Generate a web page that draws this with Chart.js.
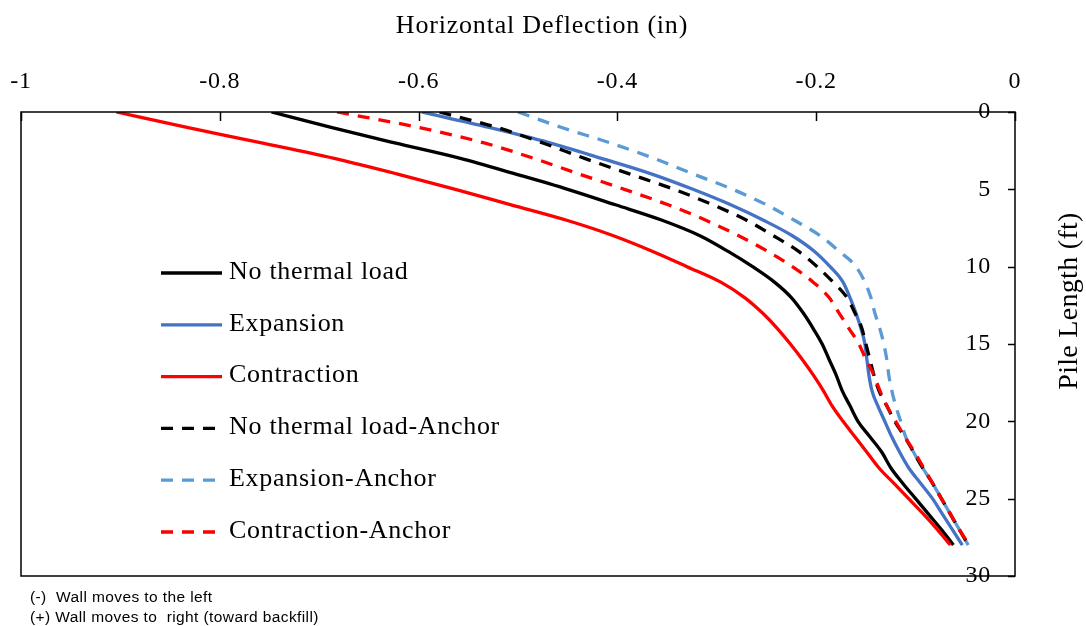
<!DOCTYPE html>
<html>
<head>
<meta charset="utf-8">
<script src="https://cdn.jsdelivr.net/npm/chart.js@4.4.1/dist/chart.umd.min.js"></script>
<style>
  html, body { margin: 0; padding: 0; background: #fff; }
  #wrap { width: 1086px; height: 626px; }
</style>
</head>
<body>
<div id="wrap"><canvas id="chart" width="1086" height="626"></canvas></div>
<script>
// Depth below the pile head (ft)
const depthFt = [0, 1, 2, 3, 4, 5, 6, 7, 8, 9, 10, 11, 12, 13, 14, 15, 16, 17, 18, 19, 20, 21, 22, 23, 24, 25, 26, 27, 28];

// Horizontal deflection (in) at each depth
const noThermalLoad = [-0.748, -0.688, -0.624, -0.558, -0.503, -0.450, -0.402, -0.355, -0.317, -0.289, -0.264, -0.242, -0.225, -0.213, -0.203, -0.194, -0.187, -0.180, -0.174, -0.166, -0.158, -0.146, -0.134, -0.125, -0.113, -0.100, -0.087, -0.074, -0.062];
const expansion = [-0.597, -0.529, -0.468, -0.416, -0.366, -0.324, -0.286, -0.253, -0.224, -0.202, -0.186, -0.173, -0.166, -0.160, -0.155, -0.151, -0.149, -0.147, -0.144, -0.138, -0.131, -0.124, -0.116, -0.107, -0.095, -0.083, -0.073, -0.063, -0.053];
const contraction = [-0.904, -0.833, -0.758, -0.685, -0.622, -0.563, -0.507, -0.451, -0.404, -0.365, -0.330, -0.296, -0.272, -0.254, -0.239, -0.226, -0.214, -0.203, -0.193, -0.184, -0.173, -0.161, -0.149, -0.137, -0.122, -0.107, -0.092, -0.078, -0.065];
const noThermalLoadAnchor = [-0.579, -0.521, -0.475, -0.433, -0.388, -0.343, -0.304, -0.270, -0.243, -0.218, -0.199, -0.183, -0.169, -0.161, -0.154, -0.150, -0.146, -0.142, -0.137, -0.129, -0.121, -0.111, -0.102, -0.093, -0.083, -0.074, -0.065, -0.056, -0.047];
const expansionAnchor = [-0.500, -0.456, -0.407, -0.363, -0.324, -0.284, -0.250, -0.222, -0.196, -0.177, -0.160, -0.151, -0.145, -0.141, -0.136, -0.132, -0.129, -0.127, -0.124, -0.120, -0.115, -0.110, -0.102, -0.093, -0.083, -0.074, -0.065, -0.056, -0.047];
const contractionAnchor = [-0.682, -0.600, -0.534, -0.484, -0.439, -0.393, -0.349, -0.311, -0.278, -0.249, -0.224, -0.203, -0.187, -0.177, -0.167, -0.157, -0.150, -0.142, -0.136, -0.129, -0.120, -0.111, -0.101, -0.092, -0.083, -0.074, -0.065, -0.056, -0.046];

// Axis ticks
const xTickValues = [-1, -0.8, -0.6, -0.4, -0.2, 0];
const xTickLabels = ['-1', '-0.8', '-0.6', '-0.4', '-0.2', '0'];
const yTickValues = [0, 5, 10, 15, 20, 25, 30];
const yTickLabels = ['0', '5', '10', '15', '20', '25', '30'];

const xTitle = 'Horizontal Deflection (in)';
const yTitle = 'Pile Length (ft)';
const notes = ['(-)  Wall moves to the left', '(+) Wall moves to  right (toward backfill)'];

const SERIF = "'Liberation Serif', 'Times New Roman', serif";
const SANS = "'Liberation Sans', Arial, sans-serif";
const LINE_W = 3.3;

function profile(values) {
  return depthFt.map((d, i) => ({ x: values[i], y: d }));
}

function series(label, values, color, dash, order) {
  return {
    label,
    data: profile(values),
    borderColor: color,
    backgroundColor: color,
    borderWidth: LINE_W,
    borderDash: dash,
    pointRadius: 0,
    showLine: true,
    cubicInterpolationMode: 'monotone',
    order
  };
}

const DASH = [12, 9];

const datasets = [
  series('No thermal load', noThermalLoad, '#000000', [], 4),
  series('Expansion', expansion, '#4472C4', [], 3),
  series('Contraction', contraction, '#FF0000', [], 2),
  series('No thermal load-Anchor', noThermalLoadAnchor, '#000000', DASH, 1),
  series('Expansion-Anchor', expansionAnchor, '#5B9BD5', DASH, 5),
  series('Contraction-Anchor', contractionAnchor, '#FF0000', DASH, 0)
];

// Plot frame, inward tick marks, axis titles, legend and notes
const decorations = {
  id: 'decorations',
  beforeDraw(chart) {
    chart.ctx.letterSpacing = '0.8px';
  },
  afterDraw(chart) {
    const { ctx, chartArea: a, scales: { x, y } } = chart;
    ctx.save();
    ctx.letterSpacing = '0px';
    ctx.strokeStyle = '#000';
    ctx.lineWidth = 1.5;
    ctx.strokeRect(a.left, a.top, a.right - a.left, a.bottom - a.top);
    ctx.beginPath();
    x.ticks.forEach(t => {
      const px = Math.round(x.getPixelForValue(t.value)) + 0.5;
      ctx.moveTo(px, a.top);
      ctx.lineTo(px, a.top + 9);
    });
    y.ticks.forEach(t => {
      const py = Math.round(y.getPixelForValue(t.value)) + 0.5;
      ctx.moveTo(a.right, py);
      ctx.lineTo(a.right - 7, py);
    });
    ctx.stroke();

    ctx.fillStyle = '#000';
    // top axis title
    ctx.letterSpacing = '0.8px';
    ctx.font = `26px ${SERIF}`;
    ctx.textAlign = 'center';
    ctx.textBaseline = 'middle';
    ctx.fillText(xTitle, 542, 26);

    // right axis title
    ctx.save();
    ctx.translate(1077, 301);
    ctx.rotate(-Math.PI / 2);
    ctx.font = `28px ${SERIF}`;
    ctx.letterSpacing = '0.3px';
    ctx.textBaseline = 'alphabetic';
    ctx.fillText(yTitle, 0, 0);
    ctx.restore();

    // legend
    ctx.font = `26px ${SERIF}`;
    ctx.letterSpacing = '0.7px';
    ctx.textAlign = 'left';
    ctx.textBaseline = 'middle';
    chart.data.datasets.forEach((ds, i) => {
      const ly = 273 + i * 51.8;
      ctx.save();
      ctx.strokeStyle = ds.borderColor;
      ctx.lineWidth = LINE_W;
      ctx.setLineDash(ds.borderDash);
      ctx.beginPath();
      ctx.moveTo(161, ly);
      ctx.lineTo(222, ly);
      ctx.stroke();
      ctx.restore();
      ctx.fillText(ds.label, 229, ly - 1);
    });

    // notes under the plot
    ctx.font = `15.5px ${SANS}`;
    ctx.letterSpacing = '0.4px';
    notes.forEach((t, i) => ctx.fillText(t, 30, 598 + i * 20));
    ctx.restore();
  }
};

new Chart(document.getElementById('chart'), {
  type: 'scatter',
  data: { datasets },
  options: {
    responsive: false,
    animation: false,
    layout: { padding: { left: 21, right: 0, top: 0, bottom: 50 } },
    plugins: { legend: { display: false }, tooltip: { enabled: false } },
    scales: {
      x: {
        type: 'linear',
        position: 'top',
        min: -1,
        max: 0,
        afterBuildTicks: s => { s.ticks = xTickValues.map(v => ({ value: v })); },
        afterFit: s => { s.height = 112; s.paddingLeft = 0; s.paddingRight = 0; },
        ticks: {
          callback: (v, i) => xTickLabels[i],
          font: { family: SERIF, size: 24 },
          color: '#000',
          padding: 16,
          maxRotation: 0,
          autoSkip: false
        },
        grid: { display: false, drawTicks: false },
        border: { display: false }
      },
      y: {
        type: 'linear',
        position: 'right',
        reverse: true,
        min: 0,
        max: 30,
        afterBuildTicks: s => { s.ticks = yTickValues.map(v => ({ value: v })); },
        afterFit: s => { s.width = 71; s.paddingTop = 0; s.paddingBottom = 0; },
        ticks: {
          mirror: true,
          padding: -24,
          callback: (v, i) => yTickLabels[i],
          font: { family: SERIF, size: 24 },
          color: '#000',
          autoSkip: false
        },
        grid: { display: false, drawTicks: false },
        border: { display: false }
      }
    }
  },
  plugins: [decorations]
});
</script>
</body>
</html>
